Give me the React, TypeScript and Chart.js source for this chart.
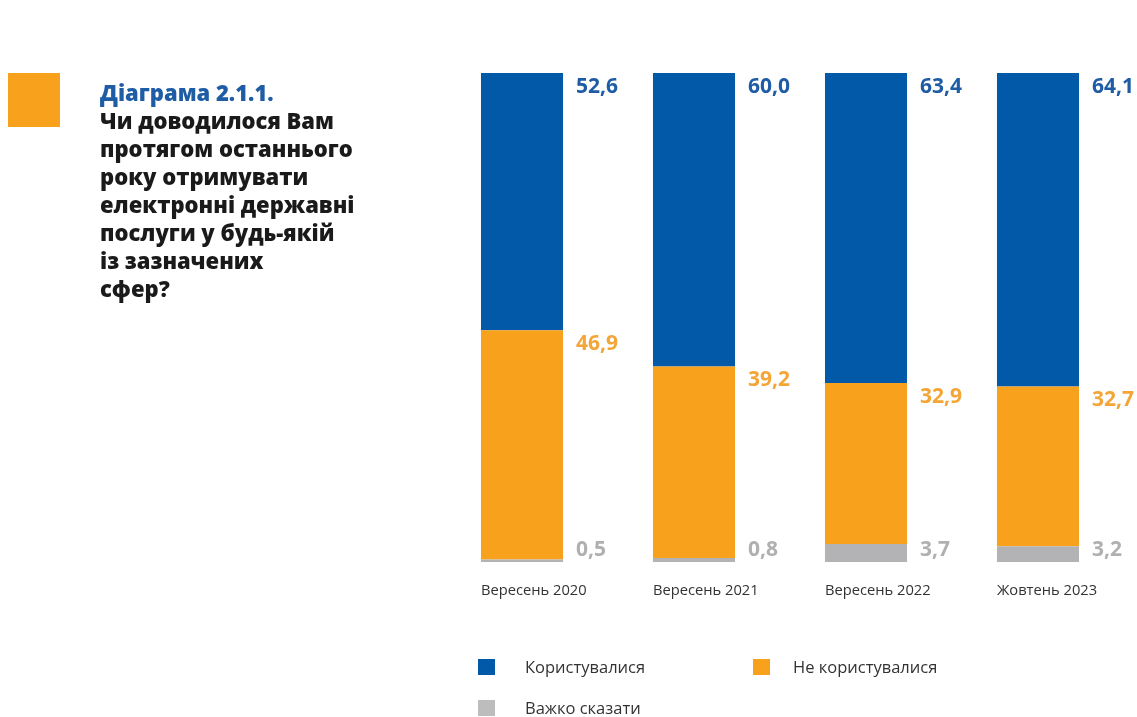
import React, { useEffect, useRef } from "react";
import { Chart, registerables } from "chart.js";

Chart.register(...registerables);

const categories = ["Вересень 2020", "Вересень 2021", "Вересень 2022", "Жовтень 2023"];
const usedValues = [52.6, 60.0, 63.4, 64.1];
const notUsedValues = [46.9, 39.2, 32.9, 32.7];
const hardToSayValues = [0.5, 0.8, 3.7, 3.2];
const seriesNames = ["Користувалися", "Не користувалися", "Важко сказати"];

const BLUE = "#0259A8";
const ORANGE = "#F7A11D";
const GRAY = "#B3B3B5";
const BLUE_TXT = "#1E5CA5";
const ORANGE_TXT = "#F4A536";
const GRAY_TXT = "#B0B0B0";

const fmt = (v: number) => v.toFixed(1).replace(".", ",");

const labelPlugin = {
  id: "valueLabels",
  afterDatasetsDraw(chart: any) {
    const ctx = chart.ctx;
    ctx.save();
    const grayMeta = chart.getDatasetMeta(0);
    const orangeMeta = chart.getDatasetMeta(1);
    const blueMeta = chart.getDatasetMeta(2);
    ctx.textBaseline = "middle";
    ctx.textAlign = "left";
    categories.forEach((cat, i) => {
      const g = grayMeta.data[i];
      const o = orangeMeta.data[i];
      const b = blueMeta.data[i];
      const right = b.x + b.width / 2;
      const left = b.x - b.width / 2;
      ctx.font = "bold 21px 'Open Sans'";
      ctx.fillStyle = BLUE_TXT;
      ctx.fillText(fmt(usedValues[i]), right + 13, b.y + 14);
      ctx.fillStyle = ORANGE_TXT;
      ctx.fillText(fmt(notUsedValues[i]), right + 13, o.y + 14);
      ctx.fillStyle = GRAY_TXT;
      ctx.fillText(fmt(hardToSayValues[i]), right + 13, g.base - 12);
      ctx.font = "14.7px 'Open Sans'";
      ctx.fillStyle = "#333333";
      ctx.fillText(cat, left, g.base + 29);
    });
    ctx.restore();
  },
};

export default function App() {
  const canvasRef = useRef<HTMLCanvasElement | null>(null);

  useEffect(() => {
    document.body.style.margin = "0";
    const chart = new Chart(canvasRef.current!, {
      type: "bar",
      data: {
        labels: categories,
        datasets: [
          { label: seriesNames[2], data: hardToSayValues, backgroundColor: GRAY },
          { label: seriesNames[1], data: notUsedValues, backgroundColor: ORANGE },
          { label: seriesNames[0], data: usedValues, backgroundColor: BLUE },
        ],
      },
      options: {
        animation: false,
        responsive: false,
        maintainAspectRatio: false,
        layout: { padding: { left: 436, right: 13, top: 73, bottom: 155 } },
        datasets: { bar: { categoryPercentage: 1, barPercentage: 0.477, borderWidth: 0 } },
        scales: {
          x: { stacked: true, display: false },
          y: { stacked: true, display: false, min: 0, max: 100 },
        },
        plugins: { legend: { display: false }, tooltip: { enabled: false } },
      },
      plugins: [labelPlugin],
    });
    return () => chart.destroy();
  }, []);

  const titleLines = [
    "Чи доводилося Вам",
    "протягом останнього",
    "року отримувати",
    "електронні державні",
    "послуги у будь-якій",
    "із зазначених",
    "сфер?",
  ];

  const legendItem = (color: string, text: string, x: number, y: number, gap: number) => (
    <div style={{ position: "absolute", left: x, top: y, display: "flex", alignItems: "center" }}>
      <div style={{ width: 17, height: 16, background: color }} />
      <span style={{ marginLeft: gap, fontSize: 16.5, color: "#333", fontFamily: "'Open Sans'", lineHeight: "16px" }}>{text}</span>
    </div>
  );

  return (
    <div style={{ position: "fixed", left: 0, top: 0, width: 1137, height: 717, background: "#fff", overflow: "hidden" }}>
      <canvas ref={canvasRef} width={1137} height={717} style={{ position: "absolute", left: 0, top: 0 }} />
      <div style={{ position: "absolute", left: 8, top: 73, width: 52, height: 54, background: ORANGE }} />
      <div style={{ position: "absolute", left: 100, top: 78, fontFamily: "'Open Sans'", fontWeight: 800, fontSize: 22, lineHeight: "28px", whiteSpace: "nowrap" }}>
        <div style={{ color: BLUE_TXT }}>Діаграма 2.1.1.</div>
        {titleLines.map((l) => (
          <div key={l} style={{ color: "#1a1a1a" }}>{l}</div>
        ))}
      </div>
      {legendItem(BLUE, seriesNames[0], 478, 659, 30)}
      {legendItem(ORANGE, seriesNames[1], 753, 659, 23)}
      {legendItem("#BDBDBD", seriesNames[2], 478, 700, 30)}
    </div>
  );
}
